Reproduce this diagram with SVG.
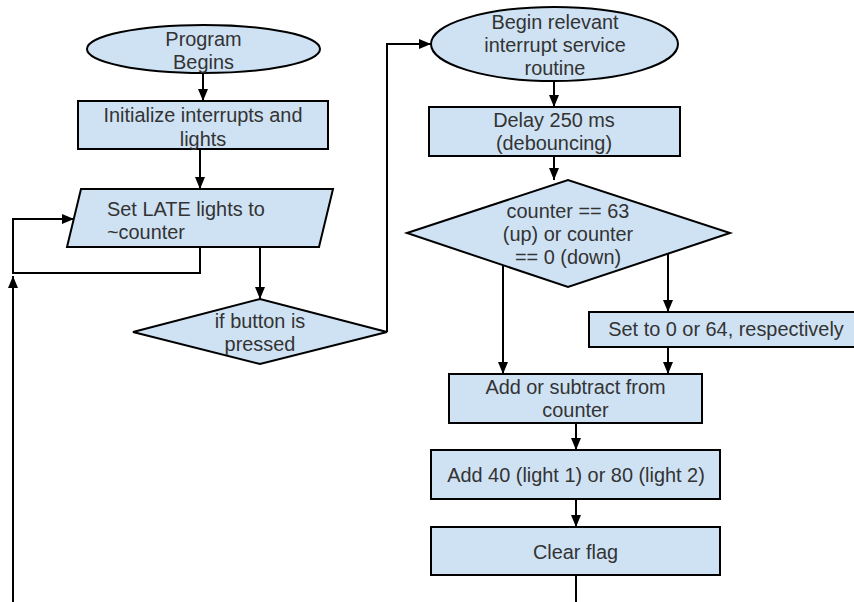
<svg xmlns="http://www.w3.org/2000/svg" width="854" height="602" viewBox="0 0 854 602">
<defs>
<marker id="ah" markerUnits="userSpaceOnUse" markerWidth="12" markerHeight="12" viewBox="0 0 12 12" refX="12" refY="6" orient="auto">
<path d="M0,1 L12,6 L0,11 Z" fill="#000"/>
</marker>
</defs>
<style>
.shape{fill:#cfe2f3;stroke:#000;stroke-width:2}
.c{fill:none;stroke:#000;stroke-width:2}
.ca{fill:none;stroke:#000;stroke-width:2;marker-end:url(#ah)}
text{font-family:"Liberation Sans",Arial,sans-serif;font-size:19.9px;fill:#333}
.m{text-anchor:middle}
</style>
<rect width="854" height="602" fill="#fff"/>
<g id="connectors">
<path class="ca" d="M203,73 V101"/>
<path class="ca" d="M200,149 V189"/>
<path class="ca" d="M200,248 V273 H13 V219 H74"/>
<path class="ca" d="M13,602 V276"/>
<path class="ca" d="M260,248 V299"/>
<path class="ca" d="M387,332 V44 H431"/>
<path class="ca" d="M554,81 V107"/>
<path class="ca" d="M554,156 V180"/>
<path class="ca" d="M503,265 V374"/>
<path class="ca" d="M668,254 V312"/>
<path class="ca" d="M668,347 V374"/>
<path class="ca" d="M576,423 V450"/>
<path class="ca" d="M576,499 V527"/>
<path class="c" d="M576,575 V602"/>
</g>
<g id="program-begins">
<ellipse class="shape" cx="203.5" cy="49" rx="116.5" ry="24"/>
<text class="m" x="203.5" y="46">Program</text>
<text class="m" x="203.5" y="69">Begins</text>
</g>
<g id="initialize">
<rect class="shape" x="78" y="101" width="250" height="48"/>
<text class="m" x="203" y="122">Initialize interrupts and</text>
<text class="m" x="203" y="146">lights</text>
</g>
<g id="set-late">
<polygon class="shape" points="81,189 333,189 319,247 67,247"/>
<text x="107" y="216">Set LATE lights to</text>
<text x="107" y="239">~counter</text>
</g>
<g id="if-button">
<polygon class="shape" points="133,332 260,299 387,332 260,364"/>
<text class="m" x="260" y="328">if button is</text>
<text class="m" x="260" y="351">pressed</text>
</g>
<g id="begin-isr">
<ellipse class="shape" cx="554.5" cy="44" rx="123.5" ry="37"/>
<text class="m" x="555" y="29">Begin relevant</text>
<text class="m" x="555" y="52">interrupt service</text>
<text class="m" x="555" y="75">routine</text>
</g>
<g id="delay">
<rect class="shape" x="429" y="107" width="251" height="49"/>
<text class="m" x="554" y="127">Delay 250 ms</text>
<text class="m" x="554" y="150">(debouncing)</text>
</g>
<g id="counter-check">
<polygon class="shape" points="407,233 568,180 730,233 568,287"/>
<text class="m" x="568" y="218">counter == 63</text>
<text class="m" x="568" y="241">(up) or counter</text>
<text class="m" x="568" y="264">== 0 (down)</text>
</g>
<g id="set-to">
<rect class="shape" x="589" y="312" width="276" height="35"/>
<text class="m" x="726" y="336">Set to 0 or 64, respectively</text>
</g>
<g id="add-subtract">
<rect class="shape" x="449" y="374" width="253" height="49"/>
<text class="m" x="575.5" y="394">Add or subtract from</text>
<text class="m" x="575.5" y="417">counter</text>
</g>
<g id="add-40">
<rect class="shape" x="431" y="450" width="289" height="49"/>
<text class="m" x="576" y="482">Add 40 (light 1) or 80 (light 2)</text>
</g>
<g id="clear-flag">
<rect class="shape" x="431" y="527" width="289" height="48"/>
<text class="m" x="575.5" y="559">Clear flag</text>
</g>
</svg>
